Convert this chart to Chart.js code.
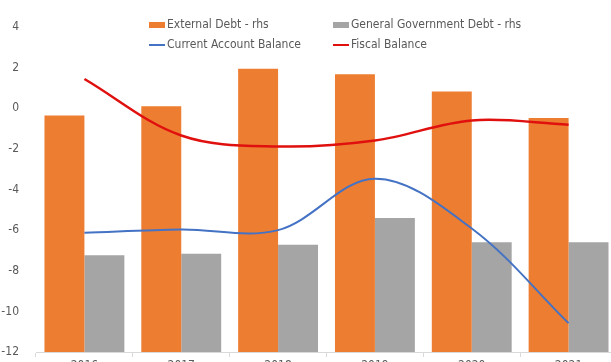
<!DOCTYPE html>
<html>
<head>
<meta charset="utf-8">
<script src="https://cdn.jsdelivr.net/npm/chart.js@4.4.1/dist/chart.umd.min.js"></script>
<style>
	html, body {
		margin: 0;
		padding: 0;
		background: #ffffff;
		overflow: hidden;
		width: 611px;
		height: 362px;
	}

	#wrap {
		position: relative;
		width: 620px;
		height: 382px;
	}

	.legendItem {
		position: absolute;
		font-family: 'Liberation Sans Narrow', 'DejaVu Sans Condensed', sans-serif;
		font-size: 12px;
		color: #595959;
		white-space: nowrap;
		line-height: 14px;
	}

	.legendItem span.mark {
		display: inline-block;
		width: 16px;
		vertical-align: middle;
		margin-right: 2px;
	}
</style>
</head>
<body>
<div id="wrap">
	<canvas id="myChart"></canvas>
	<div id="legend"></div>
</div>

<script>
	// categories are cut off at the bottom of the picture
	const labels = ['2016', '2017', '2018', '2019', '2020', '2021'];

	// rhs (hidden axis)
	const externalDebt = [58.2, 60.5, 69.7, 68.4, 64.1, 57.6];
	const govDebt = [23.8, 24.2, 26.4, 33.0, 27.0, 27.0];

	// lhs
	const currentAccount = [-6.13, -5.97, -6.0, -3.47, -5.92, -10.58];
	const fiscalBalance = [1.44, -1.34, -1.88, -1.59, -0.60, -0.81];

	const seriesNames = ['External Debt - rhs', 'General Government Debt - rhs', 'Current Account Balance', 'Fiscal Balance'];
	const seriesColors = ['#ED7D31', '#A5A5A5', '#4472C4', '#E0100F'];

	const fontFamily = "'Liberation Sans Narrow', 'DejaVu Sans Condensed', sans-serif";

	const data = {
		labels: labels,
		datasets: [{
			type: 'line',
			label: seriesNames[2],
			data: currentAccount,
			borderColor: seriesColors[2],
			borderWidth: 2,
			pointRadius: 0,
			tension: 0.35,
			yAxisID: 'y',
			order: 1
		}, {
			type: 'line',
			label: seriesNames[3],
			data: fiscalBalance,
			borderColor: seriesColors[3],
			borderWidth: 2.5,
			pointRadius: 0,
			tension: 0.35,
			yAxisID: 'y',
			order: 1
		}, {
			type: 'bar',
			label: seriesNames[0],
			data: externalDebt,
			backgroundColor: seriesColors[0],
			barPercentage: 1,
			categoryPercentage: 0.825,
			yAxisID: 'y1',
			order: 2
		}, {
			type: 'bar',
			label: seriesNames[1],
			data: govDebt,
			backgroundColor: seriesColors[1],
			barPercentage: 1,
			categoryPercentage: 0.825,
			yAxisID: 'y1',
			order: 2
		}]
	};

	const config = {
		type: 'bar',
		data: data,
		options: {
			responsive: true,
			maintainAspectRatio: false,
			animation: false,
			layout: {
				padding: { top: 27, right: 3, left: 0, bottom: 0 }
			},
			plugins: {
				legend: { display: false },
				tooltip: { enabled: false }
			},
			scales: {
				x: {
					offset: true,
					grid: {
						offset: true,
						drawOnChartArea: false,
						tickLength: 5,
						color: '#d9d9d9'
					},
					border: { color: '#d9d9d9' },
					ticks: {
						color: '#595959',
						padding: 2,
						font: { family: fontFamily, size: 12 }
					},
					afterFit: function (scale) { scale.height = 30; }
				},
				y: {
					position: 'left',
					min: -12,
					max: 4,
					ticks: {
						stepSize: 2,
						color: '#595959',
						padding: 17,
						font: { family: fontFamily, size: 12 }
					},
					grid: { display: false, drawTicks: false },
					border: { display: false },
					afterFit: function (scale) { scale.width = 36; }
				},
				y1: {
					display: false,
					position: 'right',
					min: 0,
					max: 80
				}
			}
		}
	};

	const myChart = new Chart(document.getElementById('myChart'), config);

	// legend laid out in two columns like the original
	const legendSpots = [
		{ name: seriesNames[0], color: seriesColors[0], kind: 'box', x: 149, y: 17 },
		{ name: seriesNames[1], color: seriesColors[1], kind: 'box', x: 333, y: 17 },
		{ name: seriesNames[2], color: seriesColors[2], kind: 'line', x: 149, y: 37 },
		{ name: seriesNames[3], color: seriesColors[3], kind: 'line', x: 333, y: 37 }
	];
	const legend = document.getElementById('legend');
	legendSpots.forEach(function (s) {
		const item = document.createElement('div');
		item.className = 'legendItem';
		item.style.left = s.x + 'px';
		item.style.top = s.y + 'px';
		const mark = document.createElement('span');
		mark.className = 'mark';
		mark.style.background = s.color;
		mark.style.height = s.kind === 'box' ? '6px' : '2px';
		item.appendChild(mark);
		item.appendChild(document.createTextNode(s.name));
		legend.appendChild(item);
	});
</script>
</body>
</html>
